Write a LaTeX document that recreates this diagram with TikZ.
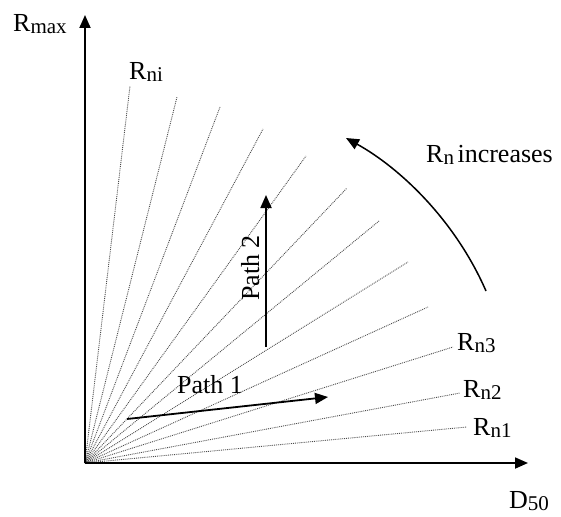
\documentclass[tikz,border=0pt]{standalone}
\usepackage{fontspec}
\setmainfont{Liberation Serif}
\usetikzlibrary{arrows.meta}
\begin{document}
\begin{tikzpicture}[x=1pt,y=-1pt,
  ray/.style={black!70, densely dotted, line width=0.9pt},
  axis/.style={line width=1.8pt, -{Triangle[length=13pt,width=11pt]}},
  patharrow/.style={line width=1.8pt, -{Triangle[length=13pt,width=11pt]}},
  lbl/.style={font=\fontsize{26}{28}\selectfont, inner sep=0pt, anchor=base west}]
\useasboundingbox (0,0) rectangle (561,516);
\newcommand{\sbs}[1]{{\fontsize{21}{22}\selectfont\raisebox{-2pt}{#1}}}
\coordinate (O) at (85,463);
\coordinate (xtip) at (528,463);
\coordinate (ytip) at (85,15);
% rays
\foreach \n/\x/\y in {1/467/427, 2/460/393, 3/453/347, 4/428/307, 5/408/262, 6/379/221,
  7/347/188, 8/306/156, 9/263/129, 10/220/107, 11/177/97, 12/130/86}{
  \coordinate (r\n) at (\x,\y);
  \draw[ray] (O) -- (r\n);
}
\draw[axis] (O) -- (xtip);
\draw[axis] (O) -- (ytip);
% paths
\coordinate (p1s) at (127,419);
\coordinate (p1e) at (328,397);
\draw[patharrow] (p1s) -- (p1e);
\coordinate (p2s) at (266,347);
\coordinate (p2e) at (266,195);
\draw[patharrow] (p2s) -- (p2e);
% curved arrow
\coordinate (cs) at (486,291);
\coordinate (ce) at (346,138);
\draw[patharrow, line width=1.5pt] (cs) .. controls (455,220) and (400,168) .. (ce);
% labels
\node[lbl] (Rmax) at (13,32) {R\sbs{max}};
\node[lbl] (D50) at (509,508) {D\sbs{50}};
\node[lbl] (Rni) at (129,80) {R\sbs{ni}};
\node[lbl] (Rn3) at (457,350) {R\sbs{n3}};
\node[lbl] (Rn2) at (463,397) {R\sbs{n2}};
\node[lbl] (Rn1) at (473,435) {R\sbs{n1}};
\node[lbl] (Rninc) at (426,162) {R\sbs{n}\hspace{-3pt} increases};
\node[lbl] (P1) at (177,393) {Path 1};
\node[font=\fontsize{26}{28}\selectfont, inner sep=0pt, anchor=base, rotate=90] (P2) at (259,268) {Path 2};
\end{tikzpicture}
\end{document}
